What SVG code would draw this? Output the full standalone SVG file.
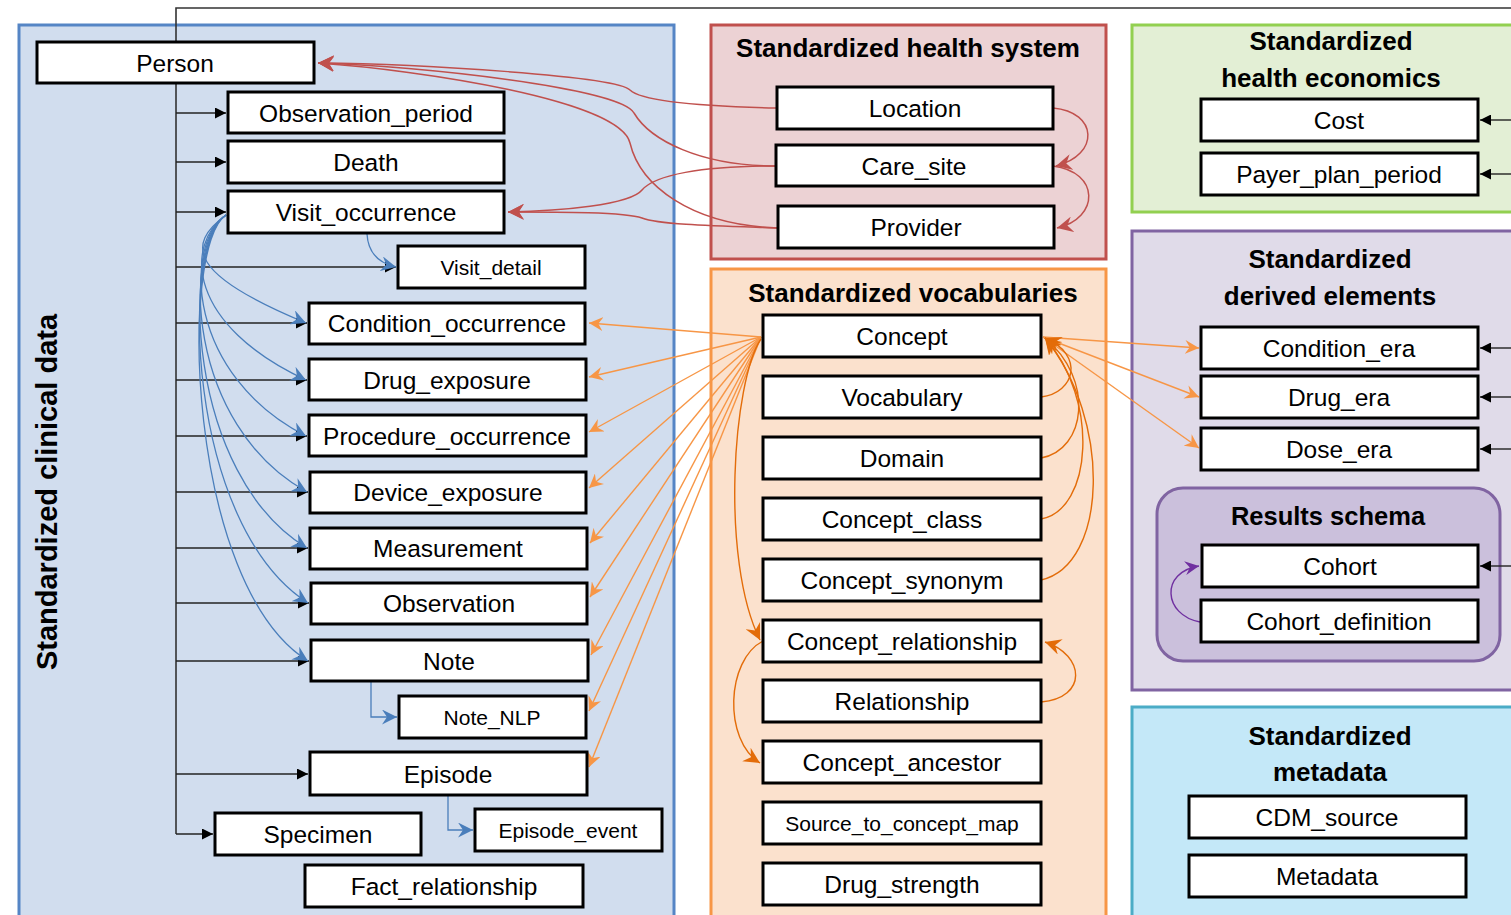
<svg xmlns="http://www.w3.org/2000/svg" width="1511" height="915" viewBox="0 0 1511 915">
<style>
.n{fill:#fff;stroke:#000;stroke-width:3}
.t{font-family:"Liberation Sans",Arial,sans-serif;font-size:24.5px;text-anchor:middle;dominant-baseline:central;fill:#000}
.s{font-size:21px}
.h{font-family:"Liberation Sans",Arial,sans-serif;font-size:26px;font-weight:bold;text-anchor:middle;dominant-baseline:central;fill:#000}
.k{fill:none;stroke:#333;stroke-width:1.6}
.kb{fill:none;stroke:#222;stroke-width:1.4;marker-end:url(#ak)}
.b{fill:none;stroke:#4a7ebb;stroke-width:1.3;marker-end:url(#ablue)}
.r{fill:none;stroke:#c0504d;stroke-width:1.5;marker-end:url(#ared)}
.o{fill:none;stroke:#f79646;stroke-width:1.4;marker-end:url(#aor)}
.od{fill:none;stroke:#e36c09;stroke-width:1.4;marker-end:url(#aord)}
.p{fill:none;stroke:#7030a0;stroke-width:1.4;marker-end:url(#apur)}
</style>
<defs>
<marker id="ak" viewBox="0 0 10 10" refX="10" refY="5" markerWidth="11" markerHeight="11" orient="auto" markerUnits="userSpaceOnUse"><path d="M0,0 L10,5 L0,10 z" fill="#000"/></marker>
<marker id="ablue" viewBox="0 0 12 12" refX="12" refY="6" markerWidth="15" markerHeight="15" orient="auto" markerUnits="userSpaceOnUse"><path d="M0,0 L12,6 L0,12 L4,6 z" fill="#4a7ebb"/></marker>
<marker id="ared" viewBox="0 0 12 12" refX="12" refY="6" markerWidth="16" markerHeight="16" orient="auto" markerUnits="userSpaceOnUse"><path d="M0,0 L12,6 L0,12 L4,6 z" fill="#c0504d"/></marker>
<marker id="aor" viewBox="0 0 12 12" refX="12" refY="6" markerWidth="14" markerHeight="14" orient="auto" markerUnits="userSpaceOnUse"><path d="M0,0 L12,6 L0,12 L4,6 z" fill="#f79646"/></marker>
<marker id="aord" viewBox="0 0 12 12" refX="12" refY="6" markerWidth="16" markerHeight="16" orient="auto" markerUnits="userSpaceOnUse"><path d="M0,0 L12,6 L0,12 L4,6 z" fill="#e36c09"/></marker>
<marker id="apur" viewBox="0 0 12 12" refX="12" refY="6" markerWidth="14" markerHeight="14" orient="auto" markerUnits="userSpaceOnUse"><path d="M0,0 L12,6 L0,12 L4,6 z" fill="#7030a0"/></marker>
</defs>
<rect width="1511" height="915" fill="#fff"/>

<!-- panels -->
<g id="panel-clinical">
<rect x="19" y="25" width="655" height="900" fill="#d1ddee" stroke="#5585c5" stroke-width="3"/>
<text class="h" transform="translate(47,492) rotate(-90)" style="font-size:29px">Standardized clinical data</text>
</g>
<g id="panel-health-system">
<rect x="711" y="25" width="395" height="234" fill="#ecd2d4" stroke="#c0504d" stroke-width="3"/>
<text class="h" x="908" y="48">Standardized health system</text>
</g>
<g id="panel-vocab">
<rect x="711" y="269" width="395" height="660" fill="#fbe1cd" stroke="#f79646" stroke-width="3"/>
<text class="h" x="913" y="293">Standardized vocabularies</text>
</g>
<g id="panel-economics">
<rect x="1132" y="25" width="390" height="187" fill="#e3efd5" stroke="#92d050" stroke-width="3"/>
<text class="h" x="1331" y="41">Standardized</text>
<text class="h" x="1331" y="78">health economics</text>
</g>
<g id="panel-derived">
<rect x="1132" y="231" width="390" height="459" fill="#e0dbe9" stroke="#8064a2" stroke-width="3"/>
<text class="h" x="1330" y="259">Standardized</text>
<text class="h" x="1330" y="296">derived elements</text>
<rect x="1157" y="488" width="343" height="173" rx="26" fill="#cbc0dc" stroke="#8064a2" stroke-width="3"/>
<text class="h" x="1328" y="516" style="font-size:25.5px">Results schema</text>
</g>
<g id="panel-metadata">
<rect x="1132" y="707" width="390" height="220" fill="#c4e8f8" stroke="#4bacc6" stroke-width="3"/>
<text class="h" x="1330" y="736">Standardized</text>
<text class="h" x="1330" y="772">metadata</text>
</g>

<!-- connectors -->
<g id="connectors">
<path class="k" d="M176,834 V8 H1515"/>
<path class="kb" d="M176,113 H226"/>
<path class="kb" d="M176,162 H226"/>
<path class="kb" d="M176,212 H226"/>
<path class="kb" d="M176,267 H396"/>
<path class="kb" d="M176,323 H307"/>
<path class="kb" d="M176,380 H307"/>
<path class="kb" d="M176,436 H307"/>
<path class="kb" d="M176,492 H308"/>
<path class="kb" d="M176,548 H308"/>
<path class="kb" d="M176,603 H309"/>
<path class="kb" d="M176,661 H309"/>
<path class="kb" d="M176,774 H308"/>
<path class="kb" d="M176,834 H213"/>
<path class="kb" d="M1511,120 H1480"/>
<path class="kb" d="M1511,174 H1480"/>
<path class="kb" d="M1511,348 H1480"/>
<path class="kb" d="M1511,397 H1480"/>
<path class="kb" d="M1511,449 H1480"/>
<path class="kb" d="M1511,566 H1480"/>

<path class="b" d="M226,215 C185,245 190,275 306,323"/>
<path class="b" d="M226,215 C184,245 188,325 306,380"/>
<path class="b" d="M226,215 C183,245 187,375 306,436"/>
<path class="b" d="M226,215 C182,245 186,425 307,492"/>
<path class="b" d="M226,215 C181,245 186,475 307,548"/>
<path class="b" d="M226,215 C180,245 186,525 308,603"/>
<path class="b" d="M226,215 C179,245 186,585 308,661"/>
<path class="b" d="M367,234 C368,252 378,263 396,267"/>
<path class="b" d="M371,682 V717 H397"/>
<path class="b" d="M448,796 V830 H473"/>

<path class="r" d="M776,108 C690,106 640,100 630,90 C618,76 420,64 318,63"/>
<path class="r" d="M776,166 C700,166 650,140 634,113 C620,88 420,66 318,63"/>
<path class="r" d="M778,228 C690,225 640,185 630,143 C620,100 420,70 318,63"/>
<path class="r" d="M776,166 C700,166 655,175 642,190 C630,205 560,211 508,212"/>
<path class="r" d="M778,228 C720,226 660,225 642,218 C625,212 560,212 508,212"/>
<path class="r" d="M1053,108 C1098,112 1100,155 1056,166"/>
<path class="r" d="M1053,166 C1100,172 1100,218 1057,228"/>

<path class="o" d="M761,337 L589,323"/>
<path class="o" d="M761,337 L589,377"/>
<path class="o" d="M761,337 L589,432"/>
<path class="o" d="M761,337 L589,488"/>
<path class="o" d="M761,337 L590,543"/>
<path class="o" d="M761,337 L590,597"/>
<path class="o" d="M761,337 L591,655"/>
<path class="o" d="M761,337 L589,711"/>
<path class="o" d="M761,337 L589,767"/>
<path class="o" d="M1043,337 L1199,348"/>
<path class="o" d="M1043,337 L1199,397"/>
<path class="o" d="M1043,337 L1199,448"/>

<path class="od" d="M1041,397 C1075,393 1085,355 1045,338"/>
<path class="od" d="M1041,458 C1086,450 1095,380 1045,338"/>
<path class="od" d="M1041,519 C1092,510 1100,400 1045,338"/>
<path class="od" d="M1041,580 C1108,565 1112,420 1045,338"/>
<path class="od" d="M761,339 C733,380 720,560 760,640"/>
<path class="od" d="M763,641 C726,660 723,740 760,763"/>
<path class="od" d="M1041,702 C1088,698 1085,655 1045,642"/>

<path class="p" d="M1200,622 C1163,615 1160,572 1199,566"/>
</g>

<!-- nodes -->
<g id="person"><rect class="n" x="37" y="42" width="277" height="41"/><text class="t" x="175" y="63">Person</text></g>
<g id="observation_period"><rect class="n" x="228" y="92" width="276" height="41"/><text class="t" x="366" y="113">Observation_period</text></g>
<g id="death"><rect class="n" x="228" y="141" width="276" height="42"/><text class="t" x="366" y="162">Death</text></g>
<g id="visit_occurrence"><rect class="n" x="228" y="191" width="276" height="42"/><text class="t" x="366" y="212">Visit_occurrence</text></g>
<g id="visit_detail"><rect class="n" x="398" y="246" width="187" height="42"/><text class="t s" x="491" y="267">Visit_detail</text></g>
<g id="condition_occurrence"><rect class="n" x="309" y="303" width="276" height="41"/><text class="t" x="447" y="323">Condition_occurrence</text></g>
<g id="drug_exposure"><rect class="n" x="309" y="359" width="277" height="41"/><text class="t" x="447" y="380">Drug_exposure</text></g>
<g id="procedure_occurrence"><rect class="n" x="309" y="415" width="277" height="41"/><text class="t" x="447" y="436">Procedure_occurrence</text></g>
<g id="device_exposure"><rect class="n" x="310" y="472" width="276" height="41"/><text class="t" x="448" y="492">Device_exposure</text></g>
<g id="measurement"><rect class="n" x="310" y="528" width="277" height="41"/><text class="t" x="448" y="548">Measurement</text></g>
<g id="observation"><rect class="n" x="311" y="583" width="276" height="41"/><text class="t" x="449" y="603">Observation</text></g>
<g id="note"><rect class="n" x="311" y="640" width="277" height="41"/><text class="t" x="449" y="661">Note</text></g>
<g id="note_nlp"><rect class="n" x="399" y="696" width="187" height="42"/><text class="t s" x="492" y="717">Note_NLP</text></g>
<g id="episode"><rect class="n" x="310" y="752" width="277" height="43"/><text class="t" x="448" y="774">Episode</text></g>
<g id="specimen"><rect class="n" x="215" y="813" width="206" height="42"/><text class="t" x="318" y="834">Specimen</text></g>
<g id="episode_event"><rect class="n" x="475" y="809" width="187" height="42"/><text class="t s" x="568" y="830">Episode_event</text></g>
<g id="fact_relationship"><rect class="n" x="305" y="865" width="278" height="42"/><text class="t" x="444" y="886">Fact_relationship</text></g>

<g id="location"><rect class="n" x="777" y="87" width="276" height="42"/><text class="t" x="915" y="108">Location</text></g>
<g id="care_site"><rect class="n" x="776" y="145" width="277" height="41"/><text class="t" x="914" y="166">Care_site</text></g>
<g id="provider"><rect class="n" x="778" y="206" width="276" height="42"/><text class="t" x="916" y="227">Provider</text></g>

<g id="concept"><rect class="n" x="763" y="315" width="278" height="42"/><text class="t" x="902" y="336">Concept</text></g>
<g id="vocabulary"><rect class="n" x="763" y="376" width="278" height="42"/><text class="t" x="902" y="397">Vocabulary</text></g>
<g id="domain"><rect class="n" x="763" y="437" width="278" height="42"/><text class="t" x="902" y="458">Domain</text></g>
<g id="concept_class"><rect class="n" x="763" y="498" width="278" height="42"/><text class="t" x="902" y="519">Concept_class</text></g>
<g id="concept_synonym"><rect class="n" x="763" y="559" width="278" height="42"/><text class="t" x="902" y="580">Concept_synonym</text></g>
<g id="concept_relationship"><rect class="n" x="763" y="620" width="278" height="42"/><text class="t" x="902" y="641">Concept_relationship</text></g>
<g id="relationship"><rect class="n" x="763" y="680" width="278" height="42"/><text class="t" x="902" y="701">Relationship</text></g>
<g id="concept_ancestor"><rect class="n" x="763" y="741" width="278" height="42"/><text class="t" x="902" y="762">Concept_ancestor</text></g>
<g id="source_to_concept_map"><rect class="n" x="763" y="802" width="278" height="42"/><text class="t s" x="902" y="823">Source_to_concept_map</text></g>
<g id="drug_strength"><rect class="n" x="763" y="863" width="278" height="42"/><text class="t" x="902" y="884">Drug_strength</text></g>

<g id="cost"><rect class="n" x="1201" y="99" width="277" height="42"/><text class="t" x="1339" y="120">Cost</text></g>
<g id="payer_plan_period"><rect class="n" x="1201" y="153" width="277" height="42"/><text class="t" x="1339" y="174">Payer_plan_period</text></g>

<g id="condition_era"><rect class="n" x="1201" y="327" width="277" height="42"/><text class="t" x="1339" y="348">Condition_era</text></g>
<g id="drug_era"><rect class="n" x="1201" y="376" width="277" height="42"/><text class="t" x="1339" y="397">Drug_era</text></g>
<g id="dose_era"><rect class="n" x="1201" y="428" width="277" height="42"/><text class="t" x="1339" y="449">Dose_era</text></g>
<g id="cohort"><rect class="n" x="1202" y="545" width="276" height="42"/><text class="t" x="1340" y="566">Cohort</text></g>
<g id="cohort_definition"><rect class="n" x="1201" y="600" width="277" height="42"/><text class="t" x="1339" y="621">Cohort_definition</text></g>

<g id="cdm_source"><rect class="n" x="1189" y="796" width="277" height="42"/><text class="t" x="1327" y="817">CDM_source</text></g>
<g id="metadata"><rect class="n" x="1189" y="855" width="277" height="42"/><text class="t" x="1327" y="876">Metadata</text></g>
</svg>
